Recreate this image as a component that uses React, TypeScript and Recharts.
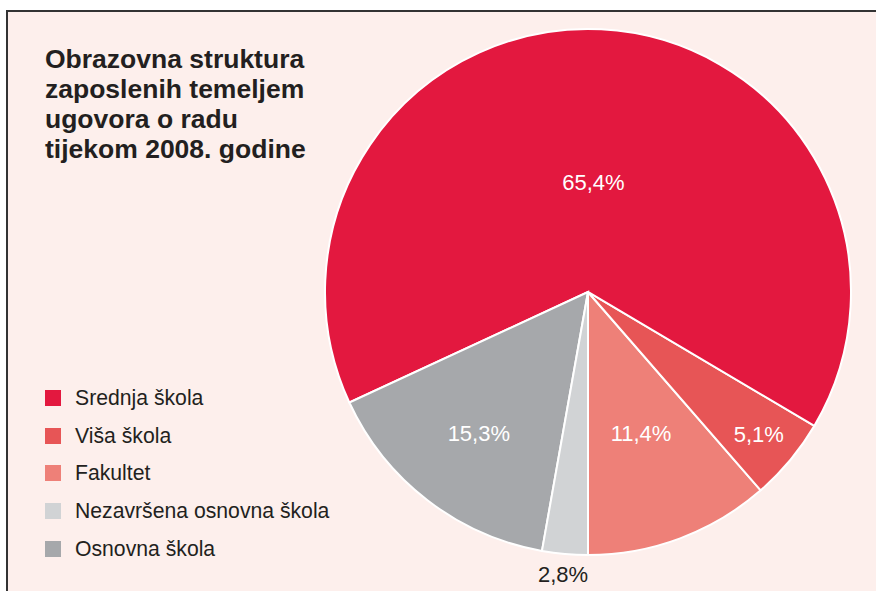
import { PieChart, Pie, Cell } from "recharts";

// slice order follows the picture, counter-clockwise from 6 o'clock
const categories = ["Fakultet", "Viša škola", "Srednja škola", "Osnovna škola", "Nezavršena osnovna škola"];
const shares = [11.4, 5.1, 65.4, 15.3, 2.8];
const shareLabels = ["11,4%", "5,1%", "65,4%", "15,3%", "2,8%"];

const legendOrder = ["Srednja škola", "Viša škola", "Fakultet", "Nezavršena osnovna škola", "Osnovna škola"];

const COLORS: Record<string, string> = {
  "Srednja škola": "#e3183f",
  "Viša škola": "#e75556",
  Fakultet: "#ee8078",
  "Nezavršena osnovna škola": "#d1d3d5",
  "Osnovna škola": "#a6a8ab",
};

// where each percentage sits, as a fraction of the radius
const LABEL_RADIUS: Record<string, number> = {
  "Srednja škola": 0.415,
  "Viša škola": 0.845,
  Fakultet: 0.575,
  "Nezavršena osnovna škola": 1.08,
  "Osnovna škola": 0.68,
};

const data = categories.map((name, i) => ({ name, value: shares[i], label: shareLabels[i] }));

const FONT = "'Liberation Sans', Arial, sans-serif";
const RADIAN = Math.PI / 180;

const renderLabel = (props: any) => {
  const { cx, cy, midAngle, outerRadius, payload } = props;
  const name = payload?.name ?? props.name;
  const r = outerRadius * LABEL_RADIUS[name];
  const x = cx + r * Math.cos(-midAngle * RADIAN);
  const y = cy + r * Math.sin(-midAngle * RADIAN);
  const outside = LABEL_RADIUS[name] > 1;
  return (
    <text
      x={x}
      y={y}
      textAnchor="middle"
      dominantBaseline="central"
      fill={outside ? "#231f20" : "#ffffff"}
      style={{ fontFamily: FONT, fontSize: 22 }}
    >
      {payload?.label ?? props.label}
    </text>
  );
};

function LegendBox() {
  return (
    <div style={{ position: "absolute", left: 45, top: 379, fontFamily: FONT }}>
      {legendOrder.map((name) => (
        <div key={name} style={{ display: "flex", alignItems: "center", height: 37.7 }}>
          <span style={{ width: 16, height: 16, background: COLORS[name], display: "inline-block", marginRight: 14 }} />
          <span style={{ fontSize: 21.2, color: "#231f20" }}>{name}</span>
        </div>
      ))}
    </div>
  );
}

export default function App() {
  return (
    <div style={{ position: "absolute", left: 0, top: 0, width: 876, height: 591, background: "#ffffff", overflow: "hidden" }}>
      <div
        style={{
          position: "absolute",
          left: 6,
          top: 10,
          width: 880,
          height: 600,
          background: "#fdefec",
          borderTop: "2px solid #333",
          borderLeft: "2px solid #333",
        }}
      />
      <div
        style={{
          position: "absolute",
          left: 45,
          top: 44,
          fontFamily: FONT,
          fontWeight: "bold",
          fontSize: 26.5,
          lineHeight: "30px",
          color: "#231f20",
        }}
      >
        Obrazovna struktura
        <br />
        zaposlenih temeljem
        <br />
        ugovora o radu
        <br />
        tijekom 2008. godine
      </div>
      <LegendBox />
      <div style={{ position: "absolute", left: 0, top: 0 }}>
        <PieChart width={876} height={591} margin={{ top: 0, right: 0, bottom: 0, left: 0 }}>
          <Pie
            data={data}
            dataKey="value"
            nameKey="name"
            cx={588}
            cy={292}
            outerRadius={263}
            startAngle={-90}
            endAngle={270}
            stroke="#ffffff"
            strokeWidth={2}
            label={renderLabel}
            labelLine={false}
            isAnimationActive={false}
          >
            {data.map((d) => (
              <Cell key={d.name} fill={COLORS[d.name]} />
            ))}
          </Pie>
        </PieChart>
      </div>
    </div>
  );
}
